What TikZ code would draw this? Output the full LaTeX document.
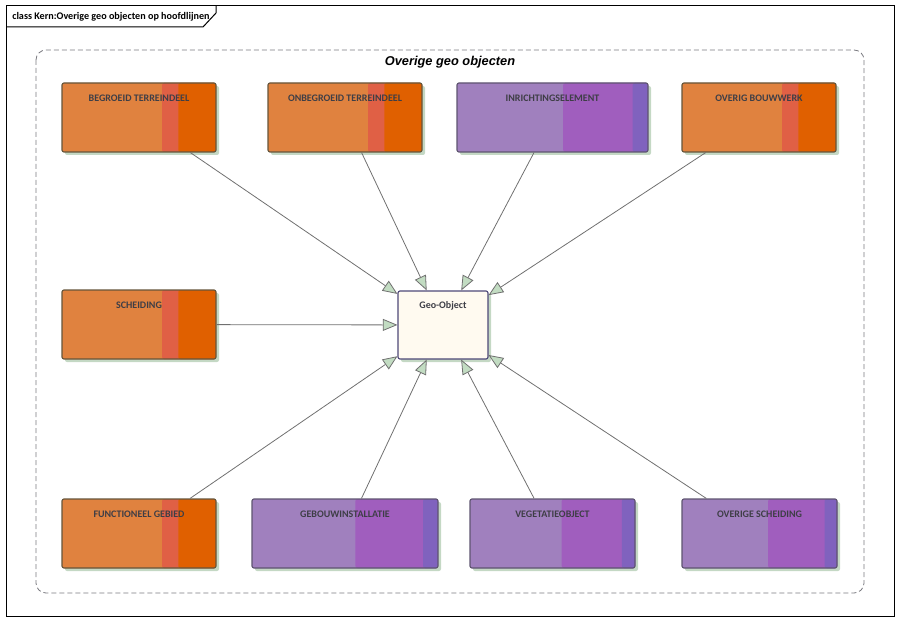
\documentclass[tikz,border=0pt]{standalone}
\usepackage{fontspec}
\setmainfont{Carlito}
\newfontfamily\arialf{Liberation Sans}
\usetikzlibrary{arrows.meta,calc}
\definecolor{ormain}{HTML}{E0823F}
\definecolor{orred}{HTML}{E06045}
\definecolor{ordark}{HTML}{E06000}
\definecolor{pumain}{HTML}{A080BE}
\definecolor{pumid}{HTML}{A05EBE}
\definecolor{pudark}{HTML}{8062BE}
\definecolor{shadowc}{HTML}{C4D8C4}
\definecolor{orbord}{HTML}{66553A}
\definecolor{pubord}{HTML}{5E5470}
\definecolor{geofill}{HTML}{FFFAF0}
\definecolor{geobord}{HTML}{4E4878}
\definecolor{linec}{HTML}{707070}
\definecolor{tipfill}{HTML}{C2DCC2}
\definecolor{txtc}{HTML}{3E3E46}
\definecolor{pkgc}{HTML}{7A7A80}
\begin{document}
\begin{tikzpicture}[x=0.75pt,y=-0.75pt,
  shadowed/.style={preaction={fill=shadowc, transform canvas={shift={(2.25pt,-2.25pt)}}}},
  umlbox/.style={shadowed, rectangle, rounded corners=1.5pt, line width=0.85pt, inner sep=0pt},
  obox/.style={umlbox, draw=orbord, fill=ormain, path picture={
    \fill[orred] ($(path picture bounding box.south west)!0.65!(path picture bounding box.south east)$) rectangle (path picture bounding box.north east);
    \fill[ordark] ($(path picture bounding box.south west)!0.755!(path picture bounding box.south east)$) rectangle (path picture bounding box.north east);}},
  pbox/.style={umlbox, draw=pubord, fill=pumain, path picture={
    \fill[pumid] ($(path picture bounding box.south west)!0.556!(path picture bounding box.south east)$) rectangle (path picture bounding box.north east);
    \fill[pudark] ($(path picture bounding box.south west)!0.92!(path picture bounding box.south east)$) rectangle (path picture bounding box.north east);}},
  gbox/.style={umlbox, draw=geobord, fill=geofill},
  lbl/.style={font=\bfseries\fontsize{7.5}{9}\selectfont, text=txtc, inner sep=0pt, anchor=center},
  assoc/.style={draw=linec, line width=0.6pt, -{Triangle[length=11pt,width=9pt,fill=tipfill]}}
]
\useasboundingbox (0,0) rectangle (900,624);
% frame and tab
\draw[line width=0.75pt] (6,6) rectangle (894,616);
\draw[line width=0.75pt] (6,27) -- (203,27) -- (216,13) -- (216,6);
\node[anchor=west, inner sep=0pt, font=\bfseries\fontsize{7.6}{9}\selectfont] (title) at (12,16.5) {class Kern:Overige geo objecten op hoofdlijnen};
% package
\draw[draw=pkgc, dash pattern=on 3.75pt off 2.25pt, rounded corners=7.5pt, line width=0.6pt] (36,50) rectangle (864,593);
\node[inner sep=0pt, font=\arialf\bfseries\itshape\fontsize{9.6}{11}\selectfont] (pkgt) at (450,62) {Overige geo objecten};
% boxes
\node[obox, minimum width=115.5pt, minimum height=51.75pt] (b1) at (139,117.5) {};
\node[obox, minimum width=115.5pt, minimum height=51.75pt] (b2) at (345,117.5) {};
\node[pbox, minimum width=143.25pt, minimum height=51.75pt] (b3) at (552.5,117.5) {};
\node[obox, minimum width=115.5pt, minimum height=51.75pt] (b4) at (759,117.5) {};
\node[obox, minimum width=115.5pt, minimum height=51.75pt] (b5) at (139,324.5) {};
\node[gbox, minimum width=67.5pt, minimum height=51pt] (geo) at (443,325) {};
\node[obox, minimum width=115.5pt, minimum height=51.75pt] (b6) at (139,533.5) {};
\node[pbox, minimum width=139.5pt, minimum height=51.75pt] (b7) at (345,533.5) {};
\node[pbox, minimum width=123.75pt, minimum height=51.75pt] (b8) at (552.5,533.5) {};
\node[pbox, minimum width=116.25pt, minimum height=51.75pt] (b9) at (759.5,533.5) {};
% labels
\node[lbl] (t1) at ([yshift=-12pt]b1.north) {BEGROEID TERREINDEEL};
\node[lbl] (t2) at ([yshift=-12pt]b2.north) {ONBEGROEID TERREINDEEL};
\node[lbl] (t3) at ([yshift=-12pt]b3.north) {INRICHTINGSELEMENT};
\node[lbl] (t4) at ([yshift=-12pt]b4.north) {OVERIG BOUWWERK};
\node[lbl] (t5) at ([yshift=-12pt]b5.north) {SCHEIDING};
\node[lbl] (tg) at ([yshift=-11.5pt]geo.north) {Geo-Object};
\node[lbl] (t6) at ([yshift=-12pt]b6.north) {FUNCTIONEEL GEBIED};
\node[lbl] (t7) at ([yshift=-12pt]b7.north) {GEBOUWINSTALLATIE};
\node[lbl] (t8) at ([yshift=-12pt]b8.north) {VEGETATIEOBJECT};
\node[lbl] (t9) at ([yshift=-12pt]b9.north) {OVERIGE SCHEIDING};
% connectors
\foreach \s in {b1,b2,b3,b4,b5,b6,b7,b8,b9} {\draw[assoc] (\s) -- (geo);}
\end{tikzpicture}
\end{document}
